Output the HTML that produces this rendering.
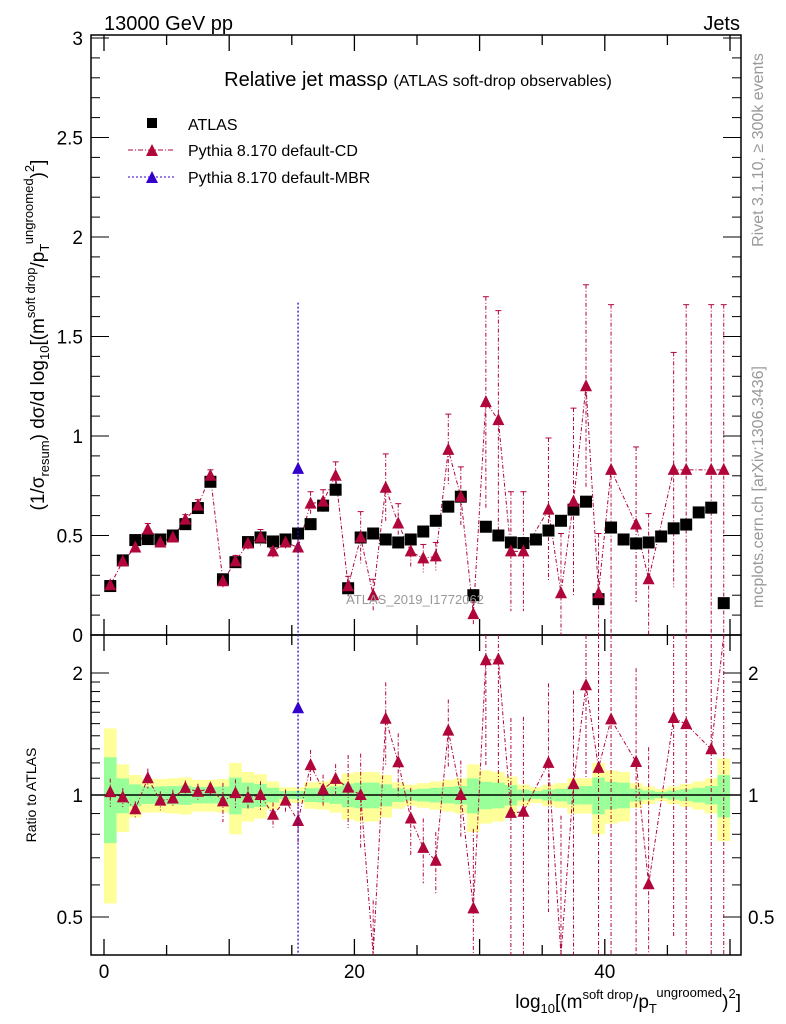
<!DOCTYPE html>
<html><head><meta charset="utf-8"><style>
body{margin:0;background:#fff}
svg{display:block;font-family:"Liberation Sans",sans-serif}
</style></head><body>
<svg id="c" width="786" height="1024" viewBox="0 0 786 1024">
<g id="bands"></g><g id="grid"></g><g id="marks"></g>
<text x="104" y="30" font-size="20">13000 GeV pp</text>
<text x="740" y="30" font-size="20" text-anchor="end">Jets</text>
<text x="418" y="86" font-size="20" text-anchor="middle">Relative jet massρ <tspan font-size="16">(ATLAS soft-drop observables)</tspan></text>
<g>
<rect x="147" y="118" width="10" height="10" fill="#000"/>
<text x="188" y="130" font-size="16">ATLAS</text>
<line x1="128" y1="150" x2="175" y2="150" stroke="#b0063a" stroke-dasharray="5,2,1,2"/>
<polygon points="146,156 158,156 152,144" fill="#b0063a"/>
<text x="188" y="156" font-size="16">Pythia 8.170 default-CD</text>
<line x1="128" y1="177" x2="175" y2="177" stroke="#3300cc" stroke-dasharray="2,2"/>
<polygon points="146,183 158,183 152,171" fill="#3300cc"/>
<text x="188" y="183" font-size="16">Pythia 8.170 default-MBR</text>
</g>
<text x="415" y="604" font-size="13" fill="#999" text-anchor="middle">ATLAS_2019_I1772062</text>
<text transform="translate(763,150) rotate(-90)" font-size="16" fill="#999" text-anchor="middle">Rivet 3.1.10, ≥ 300k events</text>
<text transform="translate(763,487) rotate(-90)" font-size="16" fill="#999" text-anchor="middle">mcplots.cern.ch [arXiv:1306.3436]</text>
<text transform="translate(44,335) rotate(-90)" font-size="19" text-anchor="middle">(1/σ<tspan font-size="13" dy="5">resum</tspan><tspan dy="-5">) dσ/d log</tspan><tspan font-size="13" dy="5">10</tspan><tspan dy="-5">[(m</tspan><tspan font-size="13" dy="-9">soft drop</tspan><tspan dy="9">/p</tspan><tspan font-size="13" dy="5">T</tspan><tspan font-size="13" dy="-16">ungroomed</tspan><tspan dy="11">)</tspan><tspan font-size="13" dy="-10">2</tspan><tspan dy="10">]</tspan></text>
<text transform="translate(36,795) rotate(-90)" font-size="14" text-anchor="middle">Ratio to ATLAS</text>
<text x="741" y="1008" font-size="19" text-anchor="end">log<tspan font-size="13" dy="5">10</tspan><tspan dy="-5">[(m</tspan><tspan font-size="13" dy="-9">soft drop</tspan><tspan dy="9">/p</tspan><tspan font-size="13" dy="5">T</tspan><tspan font-size="13" dy="-16">ungroomed</tspan><tspan dy="11">)</tspan><tspan font-size="13" dy="-10">2</tspan><tspan dy="10">]</tspan></text>
</svg>
<script>
const atlas=[0.246,0.375,0.477,0.482,0.48,0.5,0.557,0.638,0.77,0.28,0.366,0.467,0.49,0.47,0.48,0.51,0.557,0.65,0.73,0.235,0.49,0.51,0.48,0.465,0.48,0.52,0.574,0.645,0.695,0.2,0.544,0.5,0.465,0.462,0.48,0.525,0.574,0.63,0.67,0.18,0.54,0.48,0.46,0.465,0.495,0.536,0.555,0.616,0.64,0.16];
const cd=[0.25,0.37,0.44,0.53,0.465,0.49,0.58,0.65,0.8,0.27,0.37,0.46,0.49,0.42,0.465,0.44,0.66,0.67,0.8,0.245,0.49,0.2,0.74,0.56,0.42,0.385,0.395,0.93,0.695,0.105,1.17,1.08,0.42,0.42,null,0.63,0.21,0.67,1.25,0.21,0.83,null,0.555,0.28,null,0.83,0.83,null,0.83,0.83];
const cdErr=[0.02,0.02,0.02,0.03,0.025,0.025,0.025,0.03,0.03,0.03,0.03,0.03,0.04,0.03,0.03,0.05,0.06,0.06,0.07,0.05,0.13,0.08,0.17,0.1,0.08,0.07,0.07,0.18,0.15,0.06,0.53,0.55,0.3,0.3,0,0.36,0.3,0.47,0.51,0.3,0.83,0,0.39,0.33,0,0.59,0.83,0,0.83,0.83];
const mbrBin=[15];
const mbr=[0.835];
const mbrErr=[0.835];
const band=[0.46,0.19,0.12,0.095,0.095,0.1,0.105,0.09,0.09,0.095,0.2,0.14,0.125,0.08,0.045,0.045,0.075,0.08,0.095,0.13,0.14,0.14,0.12,0.075,0.06,0.07,0.08,0.09,0.1,0.19,0.15,0.14,0.11,0.06,0.045,0.06,0.07,0.1,0.1,0.2,0.15,0.14,0.07,0.05,0.035,0.05,0.065,0.08,0.1,0.23];
const yTicks=[0,0.5,1,1.5,2,2.5,3];
const rTicks=[0.5,1,2];
const xTicks=[0,20,40];

const NS='http://www.w3.org/2000/svg';
const L=91,R=741,T=35,MB=635,RB=955;
const X=v=>104+v*12.52;
const Y=v=>635-v*199;
const RY=r=>795-122*Math.log2(r);
const cl=(v,a,b)=>Math.max(a,Math.min(b,v));
function mk(t,a,p){const e=document.createElementNS(NS,t);for(const k in a)e.setAttribute(k,a[k]);(p||document.getElementById('marks')).appendChild(e);return e;}
const bandsG=document.getElementById('bands'),gridG=document.getElementById('grid');
band.forEach((b,i)=>{
 const y1=mk('rect',{x:X(i),y:RY(1+b),width:12.6,height:RY(Math.max(1-b,0.41))-RY(1+b),fill:'#ffff99'},bandsG);
 
 
 const g=b*0.52;
 const y2=mk('rect',{x:X(i),y:RY(1+g),width:12.6,height:RY(1-g)-RY(1+g),fill:'#99ff99'},bandsG);
 
 
});
mk('line',{x1:L,x2:R,y1:795,y2:795,stroke:'#000','stroke-width':1.5},gridG);
[[T,MB],[MB,RB]].forEach(([a,b])=>{const f=mk('rect',{x:L,y:a,width:R-L,height:b-a,fill:'none',stroke:'#000','stroke-width':1.5},gridG);

});
for(let v=0;v<=51;v++){const maj=v%5===0;const len=v%10===0?16:(maj?10:0);if(!len)continue;
 [[T,1],[MB,-1],[MB,1],[RB,-1]].forEach(([y,d])=>mk('line',{x1:X(v),x2:X(v),y1:y,y2:y+d*len,stroke:'#000','stroke-width':1.3},gridG));}
xTicks.forEach(v=>{const t=mk('text',{x:X(v),y:978,'font-size':19,'text-anchor':'middle'},gridG);t.textContent=v;

});
for(let k=0;k<=30;k++){const v=k/10,len=k%5===0?18:9;
 mk('line',{x1:L,x2:L+len,y1:Y(v),y2:Y(v),stroke:'#000'},gridG);mk('line',{x1:R,x2:R-len,y1:Y(v),y2:Y(v),stroke:'#000'},gridG);}
yTicks.forEach(v=>{const t=mk('text',{x:83,y:Y(v)+7,'font-size':19,'text-anchor':'end'},gridG);t.textContent=v;

});
[0.5,0.6,0.7,0.8,0.9,1,1.1,1.2,1.3,1.4,1.5,1.6,1.7,1.8,1.9,2].forEach(r=>{const len=rTicks.includes(r)?18:9;
 mk('line',{x1:L,x2:L+len,y1:RY(r),y2:RY(r),stroke:'#000'},gridG);mk('line',{x1:R,x2:R-len,y1:RY(r),y2:RY(r),stroke:'#000'},gridG);});
rTicks.forEach(r=>{[[83,'end'],[748,'start']].forEach(([x,a])=>{const t=mk('text',{x:x,y:RY(r)+7,'font-size':19,'text-anchor':a},gridG);t.textContent=r;

});});
function tri(x,y,c){const p=mk('polygon',{points:`${x-6},${y+5} ${x+6},${y+5} ${x},${y-7}`,fill:c});return p;}
const col='#b0063a';let pts=[],rpts=[];
cd.forEach((v,i)=>{if(v==null)return;const x=X(i+0.5),e=cdErr[i];
 const y=Y(v),ya=cl(Y(v+e),T,MB),yb=cl(Y(v-e),T,MB);
 mk('line',{x1:x,x2:x,y1:ya,y2:yb,stroke:col,'stroke-dasharray':'4,2,1,2'});
 if(Y(v+e)>T)mk('line',{x1:x-3,x2:x+3,y1:ya,y2:ya,stroke:col});
 pts.push(x+','+y);
 const r=v/atlas[i],re=e/atlas[i];
 const ry=RY(r),ra=cl(RY(r+re),MB,RB),rb=cl(r-re>0.01?RY(r-re):RB,MB,RB);
 mk('line',{x1:x,x2:x,y1:ra,y2:rb,stroke:col,'stroke-dasharray':'4,2,1,2'});
 rpts.push(x+','+cl(ry,MB,RB));
});
const pl=mk('polyline',{points:pts.join(' '),fill:'none',stroke:col,'stroke-dasharray':'4,2,1,2'});


const rpl=mk('polyline',{points:rpts.join(' '),fill:'none',stroke:col,'stroke-dasharray':'4,2,1,2'});


atlas.forEach((v,i)=>{const s=mk('rect',{x:X(i+0.5)-6,y:Y(v)-6,width:12,height:12,fill:'#000'});

});
cd.forEach((v,i)=>{if(v==null)return;const x=X(i+0.5);
 const a=tri(x,Y(v),col);
 
 const ry=RY(v/atlas[i]);if(ry>MB&&ry<RB){const b=tri(x,ry,col);
 }});
mbrBin.forEach((b,k)=>{const x=X(b+0.5),v=mbr[k],e=mbrErr[k],c='#3300cc';
 mk('line',{x1:x,x2:x,y1:Y(v+e),y2:RB,stroke:c,'stroke-dasharray':'2,2','stroke-width':1.3});
 const a=tri(x,Y(v),c);
 
 const r=tri(x,RY(v/atlas[b]),c);
 });
</script>
</body></html>
